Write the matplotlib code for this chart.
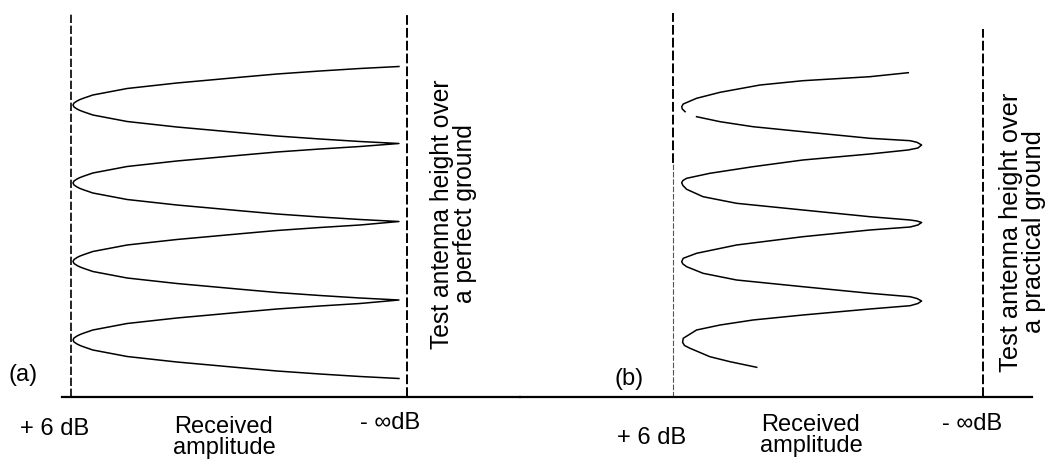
import numpy as np
import matplotlib
matplotlib.use("Agg")
import matplotlib.pyplot as plt

plt.rcParams['font.family'] = ['Liberation Sans', 'DejaVu Sans']

# amplitude: 0 = +6 dB line, 100 = -inf dB line (percent of span)
# height: arbitrary units above the ground line

# (a) perfect ground
a_amp = [97.6, 86.0, 74.1, 61.3, 51.2, 41.4, 31.5, 16.7, 6.5, 3.9, 2.7, 1.8, 0.9, 0.6,
         0.9, 1.8, 2.7, 3.9, 6.5, 16.7, 31.5, 41.4, 51.2, 61.3, 74.1, 86.0, 97.6,
         86.0, 74.1, 61.3, 51.2, 41.4, 31.5, 16.7, 6.5, 3.9, 2.7, 1.8, 0.9, 0.6,
         0.9, 1.8, 2.7, 3.9, 6.5, 16.7, 31.5, 41.4, 51.2, 61.3, 74.1, 86.0, 97.6,
         86.0, 74.1, 61.3, 51.2, 41.4, 31.5, 16.7, 6.5, 3.9, 2.7, 1.8, 0.9, 0.6,
         0.9, 1.8, 2.7, 3.9, 6.5, 16.7, 31.5, 41.4, 51.2, 61.3, 74.1, 86.0, 97.6,
         86.0, 74.1, 61.3, 51.2, 41.4, 31.5, 16.7, 6.5, 3.9, 2.7, 1.8, 0.9, 0.6,
         0.9, 1.8, 2.7, 3.9, 6.5, 16.7, 31.5, 41.4, 51.2, 61.3, 74.1, 86.0, 97.6]
a_height = [330.5, 328.5, 326, 323, 320, 317, 314, 308.5, 302, 299, 297.5, 296, 294, 292,
            290, 288, 286.5, 285, 282, 275.5, 270, 267, 264, 261, 258, 255.5, 253.5,
            250.5, 248, 245, 242, 239, 236, 230.5, 224, 221, 219.5, 218, 216, 214,
            212, 210, 208.5, 207, 204, 197.5, 192, 189, 186, 183, 180, 177.5, 175.5,
            172, 169.5, 166.5, 163.5, 160.5, 157.5, 152, 145.5, 142.5, 141, 139.5, 137.5, 135.5,
            133.5, 131.5, 130, 128.5, 125.5, 119, 113.5, 110.5, 107.5, 104.5, 101.5, 99, 97,
            93.5, 91, 88, 85, 82, 79, 73.5, 67, 64, 62.5, 61, 59, 57,
            55, 53, 51.5, 50, 47, 40.5, 35, 32, 29, 26, 23, 20.5, 18.5]

# (b) practical ground (nan = gap in the trace)
b_amp = [75.9, 63.5, 41.9, 28.1, 15.2, 7.6, 3.3, 2.8, 3.0, 3.9, np.nan,
         7.6, 15.2, 25.8, 41.9, 63.5, 76.5, 78.7, 80.2, 79.0, 75.8, 63.5, 41.9, 25.8, 11.9, 4.4, 3.2, 2.8,
         3.2, 4.4, 9.7, 20.5, 41.9, 63.5, 76.5, 78.7, 80.2, 79.0, 76.5, 63.5, 41.9, 20.5, 7.6, 3.3, 2.8,
         3.2, 4.4, 9.7, 20.5, 41.9, 63.5, 76.5, 78.7, 80.2, 79.0, 76.5, 63.5, 41.9, 25.8, 15.2, 7.6, 3.3, 3.1,
         3.7, 5.5, 11.9, 18.4, 27.0]
b_height = [324.3, 320.3, 316.3, 312, 304.7, 298.7, 293, 290.3, 288, 285.3, np.nan,
            280.3, 275.3, 270.3, 265.3, 258.7, 256.3, 254.7, 252, 249, 247, 243, 237, 230.3, 223.7, 218.7, 216.5, 214.3,
            211.5, 207.7, 200.3, 193.7, 187, 180.3, 177, 176, 174.5, 172, 170, 167, 160.3, 152, 143.7, 138.7, 135.3,
            133, 130.3, 123.7, 117, 110.3, 103.7, 100.3, 98.5, 96, 93.5, 91.3, 88, 82, 77, 72, 67, 58.7, 54.7,
            51.5, 48.7, 40.3, 35.3, 29.7]

W, H = 1045, 465
fig = plt.figure(figsize=(W / 100, H / 100), dpi=100)

def make_panel(left_px, right_px, zero_px, full_px):
    unit = (full_px - zero_px) / 100.0
    ax = fig.add_axes([left_px / W, (H - 397) / H, (right_px - left_px) / W, 397 / H])
    ax.set_xlim((left_px - zero_px) / unit, (right_px - zero_px) / unit)
    ax.set_ylim(0, 397)
    for s in ['top', 'left', 'right']:
        ax.spines[s].set_visible(False)
    ax.spines['bottom'].set_linewidth(1.6)
    ax.spines['bottom'].set_color('black')
    ax.set_xticks([])
    ax.set_yticks([])
    ax.patch.set_alpha(0)
    return ax

dash = (0, (5, 1.6))
fs = 17

# panel (a)
ax1 = make_panel(62, 520, 71, 407)
ax1.vlines([0], 0, 384, colors='black', linewidth=1.2, linestyles=[dash], clip_on=False)
ax1.vlines([100], 0, 385, colors='black', linewidth=1.4, linestyles=[dash], clip_on=False)
ax1.plot(a_amp, a_height, color='black', linewidth=1.1, solid_joinstyle='round', clip_on=False)
ax1.text(-14.3, 22, "(a)", fontsize=fs, ha='center', va='center')
ax1.text(-4.8, -32, "+ 6 dB", fontsize=fs, ha='center', va='center', clip_on=False)
ax1.text(45.5, -19, "Received\namplitude", fontsize=fs, ha='center', va='top',
         linespacing=0.95, clip_on=False)
ax1.text(94.9, -26, "- \u221edB", fontsize=fs, ha='center', va='center', clip_on=False)
ax1.text(113.7, 183, "Test antenna height over\na perfect ground", fontsize=17.7,
         rotation=90, ha='center', va='center', linespacing=0.95)

# panel (b)
ax2 = make_panel(520, 1032, 673, 983)
ax2.vlines([0], 0, 234, colors='#555555', linewidth=0.8, linestyles=[dash], clip_on=False)
ax2.vlines([0], 234, 384, colors='black', linewidth=1.4, linestyles=[dash], clip_on=False)
ax2.vlines([100], 0, 368, colors='black', linewidth=1.4, linestyles=[dash], clip_on=False)
ax2.plot(b_amp, b_height, color='black', linewidth=1.1, solid_joinstyle='round', clip_on=False)
ax2.text(-14.2, 18, "(b)", fontsize=fs, ha='center', va='center')
ax2.text(-6.8, -41, "+ 6 dB", fontsize=fs, ha='center', va='center', clip_on=False)
ax2.text(44.5, -17, "Received\namplitude", fontsize=fs, ha='center', va='top',
         linespacing=0.95, clip_on=False)
ax2.text(96.5, -27, "- \u221edB", fontsize=fs, ha='center', va='center', clip_on=False)
ax2.text(112.8, 165, "Test antenna height over\na practical ground", fontsize=18.3,
         rotation=90, ha='center', va='center', linespacing=0.95)

fig.savefig("out.png", dpi=100)
